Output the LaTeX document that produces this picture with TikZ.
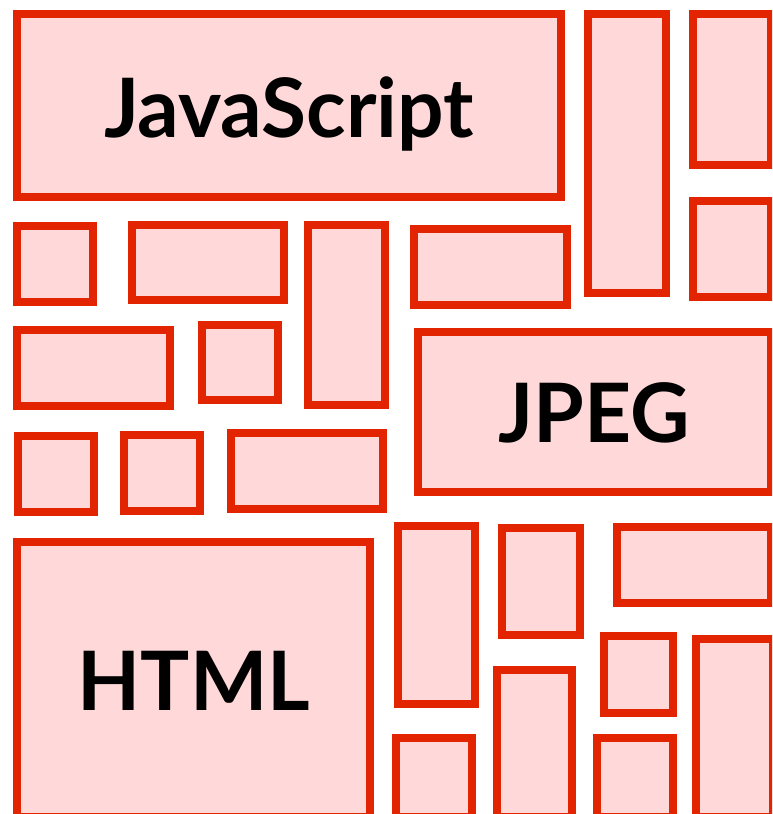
\documentclass[tikz,border=0pt]{standalone}
\usepackage{fontspec}
\setmainfont{Lato}
\definecolor{tileline}{RGB}{227,36,0}
\definecolor{tilefill}{RGB}{255,217,217}
\tikzset{
  tile/.style={draw=tileline, fill=tilefill, line width=8pt},
  word/.style={anchor=base, inner sep=0pt, font=\fontsize{82}{90}\selectfont\bfseries, text=black}
}
\begin{document}
\begin{tikzpicture}[x=1pt,y=-1pt]
\useasboundingbox (0,0) rectangle (772,814);
\clip (0,0) rectangle (772,814);
% top band
\path[tile] (17,14) rectangle (561,197);
\path[tile] (588,14) rectangle (666,293);
\path[tile] (693,14) rectangle (771,165);
\path[tile] (693,201) rectangle (771,297);
% second row
\path[tile] (17,226) rectangle (93,302);
\path[tile] (132,225) rectangle (284,300);
\path[tile] (308,225) rectangle (385,405);
\path[tile] (414,229) rectangle (567,305);
% third row
\path[tile] (17,330) rectangle (170,406);
\path[tile] (202,325) rectangle (278,400);
\path[tile] (418,332) rectangle (771,492);
% fourth row
\path[tile] (18,436) rectangle (94,512);
\path[tile] (124,435) rectangle (200,511);
\path[tile] (231,433) rectangle (383,509);
% bottom block
\path[tile] (17,542) rectangle (370,817);
\path[tile] (398,526) rectangle (475,704);
\path[tile] (502,528) rectangle (580,635);
\path[tile] (617,527) rectangle (771,603);
\path[tile] (604,636) rectangle (673,713);
\path[tile] (696,639) rectangle (773,817);
\path[tile] (396,738) rectangle (472,817);
\path[tile] (497,670) rectangle (572,817);
\path[tile] (597,738) rectangle (673,817);
% labels
\node[word] (js) at (289,137) {JavaScript};
\node[word] (jpeg) at (594,442) {JPEG};
\node[word] (html) at (194,710) {HTML};
\end{tikzpicture}
\end{document}
